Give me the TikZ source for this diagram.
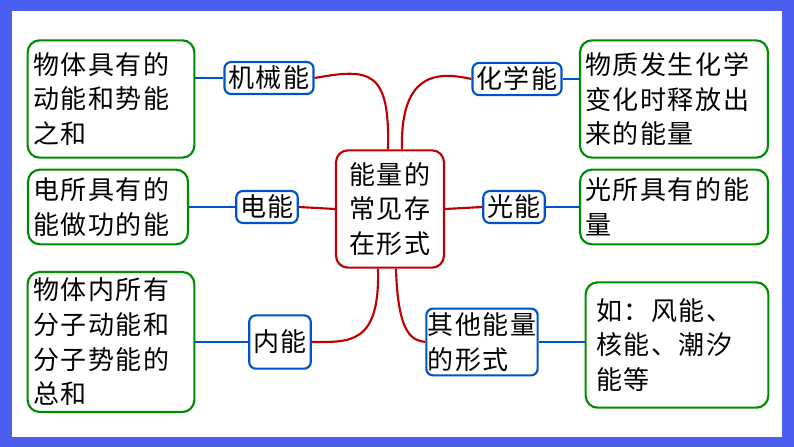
\documentclass[tikz,border=0pt]{standalone}
\usepackage{fontspec}
\setmainfont{Noto Sans CJK SC}[LetterSpace=6]
\usetikzlibrary{positioning}
\tikzset{font=\fontsize{19.5}{26}\selectfont}
\tikzstyle{descbox}=[draw=green!55!black,line width=1.6pt,rounded corners=9pt,align=left,inner sep=4pt]
\tikzstyle{kindbox}=[draw=blue!60!cyan!80!black,line width=1.6pt,rounded corners=5pt,inner sep=3pt,fill=white]
\tikzstyle{hubbox}=[draw=red!75!black,line width=1.6pt,rounded corners=9pt,align=center,inner sep=2pt]
\definecolor{framebl}{HTML}{4A5EF0}
\begin{document}
\begin{tikzpicture}[x=0.75pt,y=-0.75pt]
\useasboundingbox (0,0) rectangle (794,447);
\fill[framebl] (0,0) rectangle (794,447);
\fill[white] (12,11) rectangle (782,437);
\node[hubbox,minimum width=81pt,minimum height=88pt] (H) at (390,209) {能量的\\常见存\\在形式};
\node[kindbox] (K1) at (269,78) {机械能};
\node[kindbox] (K2) at (267,207) {电能};
\node[kindbox,minimum height=40pt] (K3) at (280,342) {内能};
\node[kindbox] (K4) at (517,79) {化学能};
\node[kindbox] (K5) at (514,207) {光能};
\node[kindbox,align=left,inner xsep=1pt] (K6) at (482,342) {其他能量\\的形式};
\node[descbox,text width=117pt,minimum height=88pt] (D1) at (111,99) {物体具有的\\动能和势能\\之和};
\node[descbox,text width=112pt,minimum height=56pt] (D2) at (108,207) {电所具有的\\能做功的能};
\node[descbox,text width=117pt,minimum height=105pt] (D3) at (111,342) {物体内所有\\分子动能和\\分子势能的\\总和};
\node[descbox,text width=133pt,minimum height=88pt] (D4) at (674,99) {物质发生化学\\变化时释放出\\来的能量};
\node[descbox,text width=133pt,minimum height=56pt] (D5) at (674,207) {光所具有的能\\量};
\node[descbox,text width=121pt,minimum height=94pt,inner xsep=8pt] (D6) at (677,345) {如：风能、\\核能、潮汐\\能等};
\begin{scope}[draw=red!75!black,line width=1.6pt]
\draw (H.north) ++(-2,0) .. controls (390,70) and (370,68) .. (K1.east);
\draw (H.north) ++(12,0) .. controls (400,70) and (440,72) .. (K4.west);
\draw (H.west) -- (K2.east);
\draw (H.east) -- (K5.west);
\draw (H.south) ++(-12,0) .. controls (380,345) and (350,342) .. (K3.east);
\draw (H.south) ++(6,0) .. controls (398,340) and (415,340) .. (K6.west);
\end{scope}
\begin{scope}[draw=blue!60!cyan!80!black,line width=1.6pt]
\draw (K1) -- (D1.east |- K1);
\draw (K2) -- (D2);
\draw (K3) -- (D3.east |- K3);
\draw (K4) -- (D4.west |- K4);
\draw (K5) -- (D5.west |- K5);
\draw (K6.east) -- (D6.west |- K6);
\end{scope}
\end{tikzpicture}
\end{document}
